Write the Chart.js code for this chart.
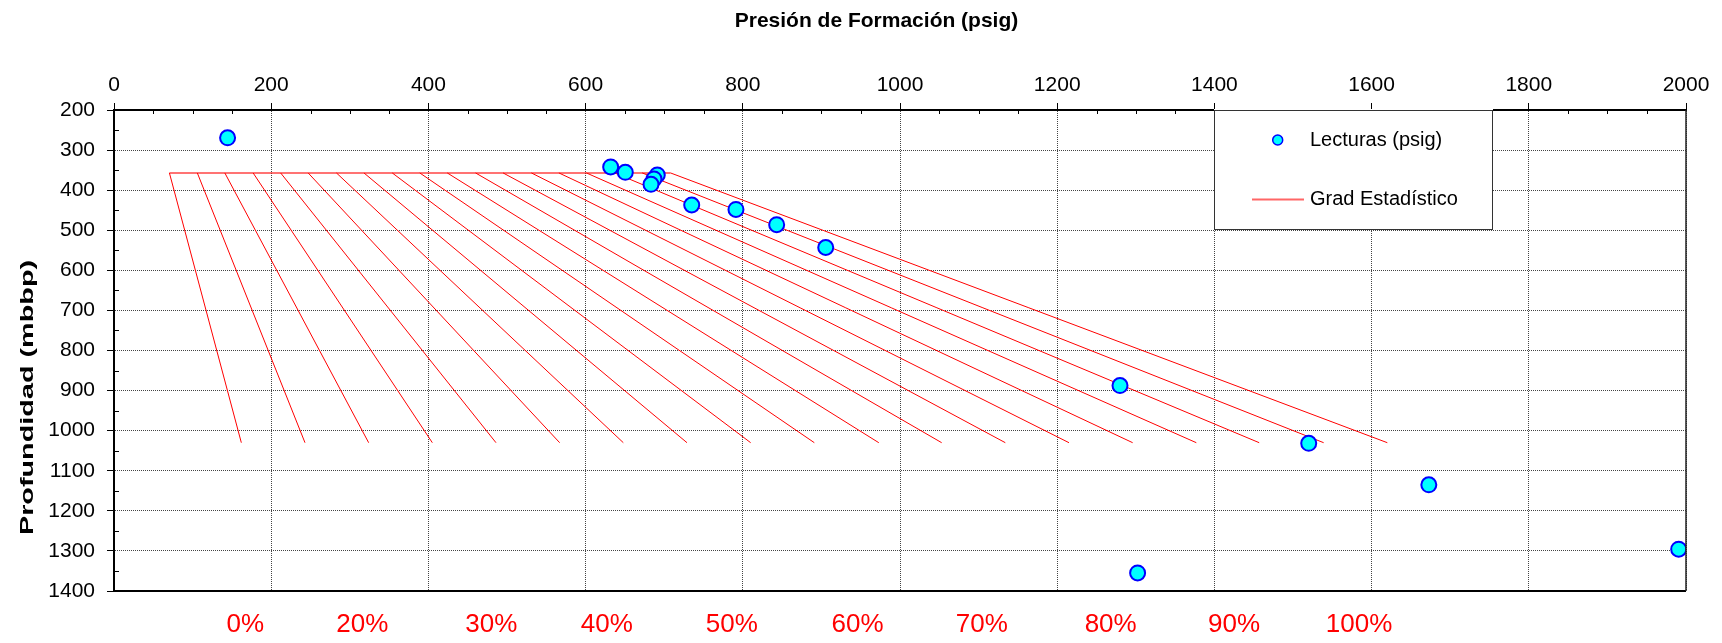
<!DOCTYPE html>
<html>
<head>
<meta charset="utf-8">
<script src="https://cdn.jsdelivr.net/npm/chart.js@4.4.1/dist/chart.umd.min.js"></script>
<style>
  html, body { margin: 0; padding: 0; background: #fff; }
  #wrap { width: 1722px; height: 643px; }
</style>
</head>
<body>
<div id="wrap"><canvas id="chart" width="1722" height="643"></canvas></div>
<script>
// Lecturas de presion (psig) contra profundidad (mbbp)
const presionLecturas = [144.5, 631.9, 650.5, 691.2, 687, 683.2, 735, 791.3, 843.1, 905.5, 1279.9, 1520, 1672.8, 1990.7, 1302.3];
const profLecturas = [269.5, 342, 355.4, 362, 372, 385.4, 437, 448, 486, 543, 887.5, 1031.6, 1135, 1295.7, 1355];

// Gradientes estadisticos: presion en el tope y en la base de cada recta
const gradPresionSup = [70.5, 106, 141, 177, 212, 247, 283, 318, 354, 389, 424, 460, 495, 531, 566, 601, 637, 672, 708];
const gradPresionInf = [162, 243, 324, 405, 486, 567, 648, 729, 810, 891, 973, 1053, 1134, 1215, 1296, 1377, 1457, 1539, 1620];
const gradProfSup = 357;
const gradProfInf = 1030;

// Etiquetas de porcentaje bajo el grafico
const pctLabels = ['0%', '20%', '30%', '40%', '50%', '60%', '70%', '80%', '90%', '100%'];
const pctPresion = [167, 316, 480, 627, 786, 946, 1104, 1268, 1425, 1584];

const FONT = '"Liberation Sans", Arial, sans-serif';

const datasets = [{
  label: 'Lecturas (psig)',
  data: presionLecturas.map((x, i) => ({ x: x, y: profLecturas[i] })),
  showLine: false,
  pointRadius: 7.5,
  pointBackgroundColor: '#00ffff',
  pointBorderColor: '#0000ff',
  pointBorderWidth: 2,
  order: 0
}, {
  label: 'tope',
  data: [
    { x: gradPresionSup[0], y: gradProfSup },
    { x: gradPresionSup[gradPresionSup.length - 1], y: gradProfSup }
  ],
  showLine: true,
  borderColor: 'rgba(255, 0, 0, 0.55)',
  borderWidth: 2,
  pointRadius: 0,
  order: 1
}];

gradPresionSup.forEach((p, i) => {
  datasets.push({
    label: 'Grad Estadístico',
    data: [{ x: p, y: gradProfSup }, { x: gradPresionInf[i], y: gradProfInf }],
    showLine: true,
    borderColor: '#ff0000',
    borderWidth: 1,
    pointRadius: 0,
    order: 1
  });
});

const decor = {
  id: 'decor',
  afterDraw(chart) {
    const ctx = chart.ctx;
    const a = chart.chartArea;
    const sx = chart.scales.x;
    const sy = chart.scales.y;
    ctx.save();

    // bordes derecho e inferior
    ctx.strokeStyle = '#000';
    ctx.lineWidth = 2;
    ctx.beginPath();
    ctx.moveTo(a.left, a.bottom);
    ctx.lineTo(a.right, a.bottom);
    ctx.stroke();
    ctx.lineWidth = 1.5;
    ctx.strokeStyle = '#222';
    ctx.beginPath();
    ctx.moveTo(a.right, a.top);
    ctx.lineTo(a.right, a.bottom);
    ctx.stroke();

    // marcas menores
    ctx.strokeStyle = '#000';
    ctx.lineWidth = 1;
    for (let v = 50; v < 2000; v += 50) {
      if (v % 200 === 0) continue;
      const px = Math.round(sx.getPixelForValue(v)) + 0.5;
      ctx.beginPath();
      ctx.moveTo(px, a.top);
      ctx.lineTo(px, a.top + 4);
      ctx.stroke();
    }
    for (let v = 250; v < 1400; v += 100) {
      const py = Math.round(sy.getPixelForValue(v)) + 0.5;
      ctx.beginPath();
      ctx.moveTo(a.left, py);
      ctx.lineTo(a.left + 5, py);
      ctx.stroke();
    }

    // leyenda
    ctx.fillStyle = '#fff';
    ctx.fillRect(1214, 109, 279, 121);
    ctx.strokeStyle = '#333';
    ctx.lineWidth = 1;
    ctx.strokeRect(1214.5, 110.5, 278, 119);
    ctx.beginPath();
    ctx.arc(1277.7, 140, 5, 0, Math.PI * 2);
    ctx.fillStyle = '#00ffff';
    ctx.fill();
    ctx.strokeStyle = '#0000ff';
    ctx.lineWidth = 1.5;
    ctx.stroke();
    ctx.strokeStyle = 'rgba(255, 0, 0, 0.6)';
    ctx.lineWidth = 2;
    ctx.beginPath();
    ctx.moveTo(1252, 199.5);
    ctx.lineTo(1304, 199.5);
    ctx.stroke();
    ctx.fillStyle = '#000';
    ctx.font = '20px ' + FONT;
    ctx.textAlign = 'left';
    ctx.textBaseline = 'middle';
    ctx.fillText('Lecturas (psig)', 1310, 140);
    ctx.fillText('Grad Estadístico', 1310, 199);

    // titulo superior
    ctx.font = 'bold 21px ' + FONT;
    ctx.textAlign = 'center';
    ctx.fillText('Presión de Formación (psig)', 876.5, 21);

    // titulo eje Y (texto ensanchado como en el original)
    ctx.save();
    ctx.translate(28, 397.5);
    ctx.rotate(-Math.PI / 2);
    ctx.scale(1.6, 1);
    ctx.font = 'bold 18px ' + FONT;
    ctx.fillText('Profundidad (mbbp)', 0, 0);
    ctx.restore();

    // porcentajes
    ctx.fillStyle = '#ff0000';
    ctx.font = '26px ' + FONT;
    pctLabels.forEach((t, i) => {
      ctx.fillText(t, sx.getPixelForValue(pctPresion[i]), 625);
    });

    ctx.restore();
  }
};

new Chart(document.getElementById('chart'), {
  type: 'scatter',
  data: { datasets: datasets },
  options: {
    responsive: false,
    animation: false,
    events: [],
    layout: { padding: { left: 0, top: 0, right: 36, bottom: 52 } },
    plugins: {
      legend: { display: false },
      title: { display: false },
      tooltip: { enabled: false }
    },
    scales: {
      x: {
        type: 'linear',
        position: 'top',
        min: 0,
        max: 2000,
        ticks: { stepSize: 200, color: '#000', padding: 5, maxRotation: 0, font: { family: FONT, size: 21 }, callback: v => String(v) },
        grid: { color: '#444', lineWidth: 1, tickLength: 7, tickColor: '#000', tickWidth: 1 },
        border: { display: true, color: '#000', width: 2, dash: [1, 1] },
        afterFit: s => { s.height = 110; }
      },
      y: {
        type: 'linear',
        position: 'left',
        reverse: true,
        min: 200,
        max: 1400,
        ticks: { stepSize: 100, color: '#000', padding: 12, font: { family: FONT, size: 21 }, callback: v => String(v) },
        grid: { color: '#444', lineWidth: 1, tickLength: 7, tickColor: '#000', tickWidth: 1 },
        border: { display: true, color: '#000', width: 2, dash: [1, 1] },
        afterFit: s => { s.width = 114; }
      }
    }
  },
  plugins: [decor]
});
</script>
</body>
</html>
